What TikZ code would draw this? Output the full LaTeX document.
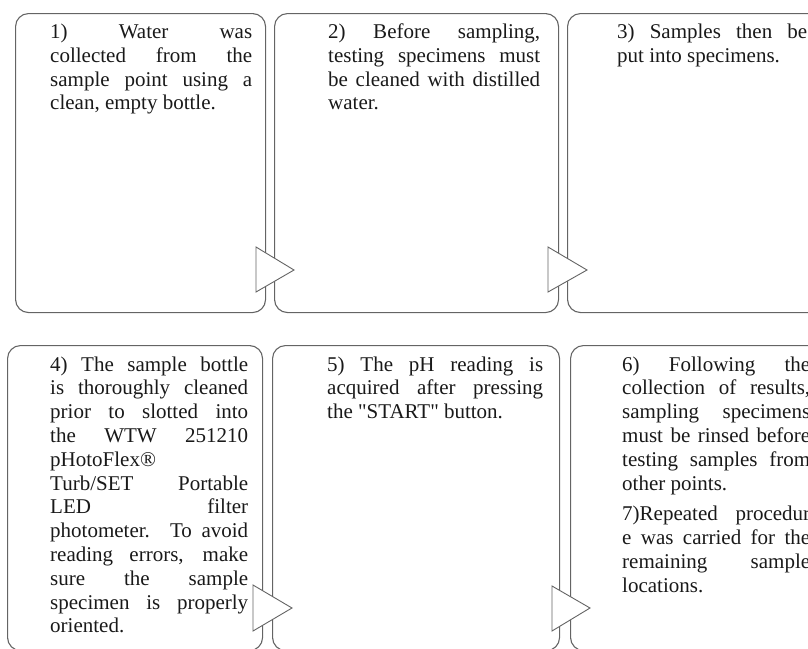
\documentclass[tikz,border=0pt]{standalone}
\usepackage{fontspec}
\setmainfont{Liberation Serif}[Ligatures=TeXOff]
\definecolor{edge}{RGB}{100,100,100}
\definecolor{ink}{RGB}{25,25,25}
\newcommand{\justln}[1]{\makebox[\linewidth][s]{#1}\par}
\newcommand{\lastln}[1]{#1\par}
\newcommand{\txtbox}[2]{\parbox[t]{#1pt}{\fontsize{21}{23.8}\selectfont\lineskiplimit=-\maxdimen\baselineskip=23.8pt\hbadness=10000 #2}}
\tikzset{
  stepbox/.style={draw=edge, line width=1.1pt, rounded corners=13pt, rectangle, inner sep=0pt, anchor=north west},
  steptxt/.style={anchor=base west, inner sep=0pt, text=ink},
  marker/.style={draw=edge, line width=0.9pt, fill=white, line join=miter}
}
\begin{document}
\begin{tikzpicture}[x=1pt, y=-1pt]
\useasboundingbox (0,0) rectangle (808,648);
\clip (0,0) rectangle (808,648);
% top row boxes
\node[stepbox, minimum width=250pt, minimum height=299pt] (b1) at (15,13) {};
\node[stepbox, minimum width=284pt, minimum height=299pt] (b2) at (274,13) {};
\node[stepbox, minimum width=284pt, minimum height=299pt] (b3) at (567,13) {};
% bottom row boxes
\node[stepbox, minimum width=255pt, minimum height=305pt] (b4) at (7,345) {};
\node[stepbox, minimum width=287pt, minimum height=305pt] (b5) at (272,345) {};
\node[stepbox, minimum width=284pt, minimum height=305pt] (b6) at (570,345) {};
% markers
\coordinate (m1a) at (256,247); \coordinate (m1b) at (256,292); \coordinate (m1c) at (294,270);
\coordinate (m2a) at (548,247); \coordinate (m2b) at (548,292); \coordinate (m2c) at (587,270);
\coordinate (m3a) at (253,585); \coordinate (m3b) at (253,631); \coordinate (m3c) at (292,608);
\coordinate (m4a) at (552,586); \coordinate (m4b) at (552,631); \coordinate (m4c) at (590,608);
\draw[marker] (m1a) -- (m1c) -- (m1b) -- cycle;
\draw[marker] (m2a) -- (m2c) -- (m2b) -- cycle;
\draw[marker] (m3a) -- (m3c) -- (m3b) -- cycle;
\draw[marker] (m4a) -- (m4c) -- (m4b) -- cycle;
% texts
\node[steptxt] (t1) at (50,38.5) {\txtbox{202}{%
\justln{1) Water was}
\justln{collected from the}
\justln{sample point using a}
\lastln{clean, empty bottle.}}};
\node[steptxt] (t2) at (328,38.5) {\txtbox{212}{%
\justln{2) Before sampling,}
\justln{testing specimens must}
\justln{be cleaned with distilled}
\lastln{water.}}};
\node[steptxt] (t3) at (617,38.5) {\txtbox{190}{%
\justln{3) Samples then be}
\lastln{put into specimens.}}};
\node[steptxt] (t4) at (50,371) {\txtbox{198}{%
\justln{4) The sample bottle}
\justln{is thoroughly cleaned}
\justln{prior to slotted into}
\justln{the WTW 251210}
\lastln{pHotoFlex®}
\justln{Turb/SET Portable}
\justln{LED filter}
\justln{photometer. To avoid}
\justln{reading errors, make}
\justln{sure the sample}
\justln{specimen is properly}
\lastln{oriented.}}};
\node[steptxt] (t5) at (327,371) {\txtbox{216}{%
\justln{5) The pH reading is}
\justln{acquired after pressing}
\lastln{the "START" button.}}};
\node[steptxt] (t6) at (622,371) {\txtbox{188}{%
\justln{6) Following the}
\justln{collection of results,}
\justln{sampling specimens}
\justln{must be rinsed before}
\justln{testing samples from}
\lastln{other points.}
\vspace{7pt}
\justln{7)Repeated procedur}
\justln{e was carried for the}
\justln{remaining sample}
\lastln{locations.}}};
\end{tikzpicture}
\end{document}
